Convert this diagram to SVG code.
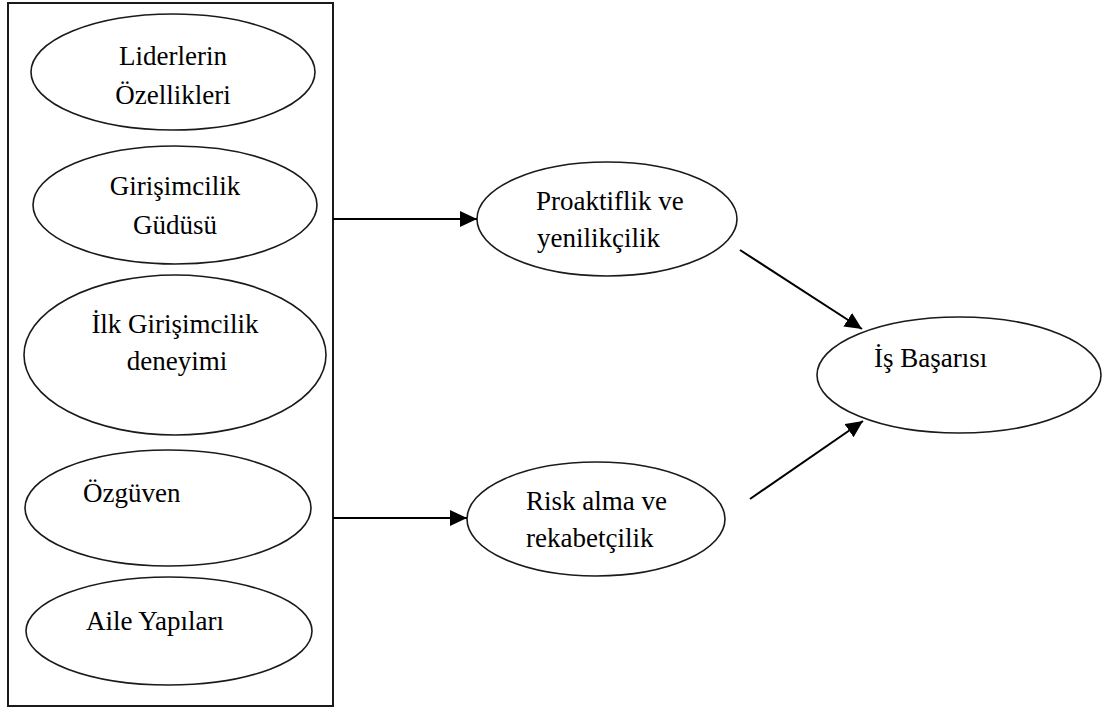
<svg xmlns="http://www.w3.org/2000/svg" width="1118" height="713" viewBox="0 0 1118 713">
<style>
  .node ellipse { fill: #ffffff; stroke: #1a1a1a; stroke-width: 1.6; }
  .frame { fill: none; stroke: #1a1a1a; stroke-width: 2; }
  .lbl { font-family: 'Liberation Serif', 'DejaVu Serif', serif; font-size: 27px; fill: #000000; }
  .mid { text-anchor: middle; }
  .conn { stroke: #000000; stroke-width: 2; fill: none; }
</style>
<defs>
  <marker id="arrow" markerUnits="userSpaceOnUse" markerWidth="18" markerHeight="17" refX="17" refY="8" orient="auto">
    <path d="M0,0 L17,8 L0,16 z" fill="#000000"/>
  </marker>
</defs>
<rect width="1118" height="713" fill="#ffffff"/>
<rect class="frame" x="8" y="3" width="325" height="703"/>
<g font-family="Liberation Serif, DejaVu Serif, serif">
<g id="n-liderlerin" class="node">
  <ellipse cx="173" cy="72" rx="142" ry="58"/>
  <text class="lbl mid" x="173" y="65">Liderlerin</text>
  <text class="lbl mid" x="173" y="104">Özellikleri</text>
</g>
<g id="n-girisimcilik" class="node">
  <ellipse cx="175" cy="205" rx="142" ry="59"/>
  <text class="lbl mid" x="175" y="195">Girişimcilik</text>
  <text class="lbl mid" x="175" y="234">Güdüsü</text>
</g>
<g id="n-ilk" class="node">
  <ellipse cx="175" cy="355" rx="151" ry="80"/>
  <text class="lbl mid" x="175" y="333">İlk Girişimcilik</text>
  <text class="lbl mid" x="177" y="370">deneyimi</text>
</g>
<g id="n-ozguven" class="node">
  <ellipse cx="168" cy="508" rx="143" ry="58"/>
  <text class="lbl" x="83" y="502">Özgüven</text>
</g>
<g id="n-aile" class="node">
  <ellipse cx="169" cy="631" rx="143" ry="54"/>
  <text class="lbl" x="86" y="630">Aile Yapıları</text>
</g>
<g id="n-proaktiflik" class="node">
  <ellipse cx="607" cy="219" rx="130" ry="57"/>
  <text class="lbl" x="536" y="210">Proaktiflik ve</text>
  <text class="lbl" x="537" y="247">yenilikçilik</text>
</g>
<g id="n-risk" class="node">
  <ellipse cx="596" cy="519" rx="129" ry="57"/>
  <text class="lbl" x="526" y="510">Risk alma ve</text>
  <text class="lbl" x="526" y="547">rekabetçilik</text>
</g>
<g id="n-isbasarisi" class="node">
  <ellipse cx="959" cy="375" rx="142" ry="58"/>
  <text class="lbl" x="874" y="367">İş Başarısı</text>
</g>
</g>
<g id="connectors">
  <line class="conn" x1="333" y1="219" x2="477" y2="219" marker-end="url(#arrow)"/>
  <line class="conn" x1="333" y1="518" x2="467" y2="518" marker-end="url(#arrow)"/>
  <line class="conn" x1="740" y1="250" x2="862" y2="329" marker-end="url(#arrow)"/>
  <line class="conn" x1="750" y1="499" x2="863" y2="421" marker-end="url(#arrow)"/>
</g>
</svg>
